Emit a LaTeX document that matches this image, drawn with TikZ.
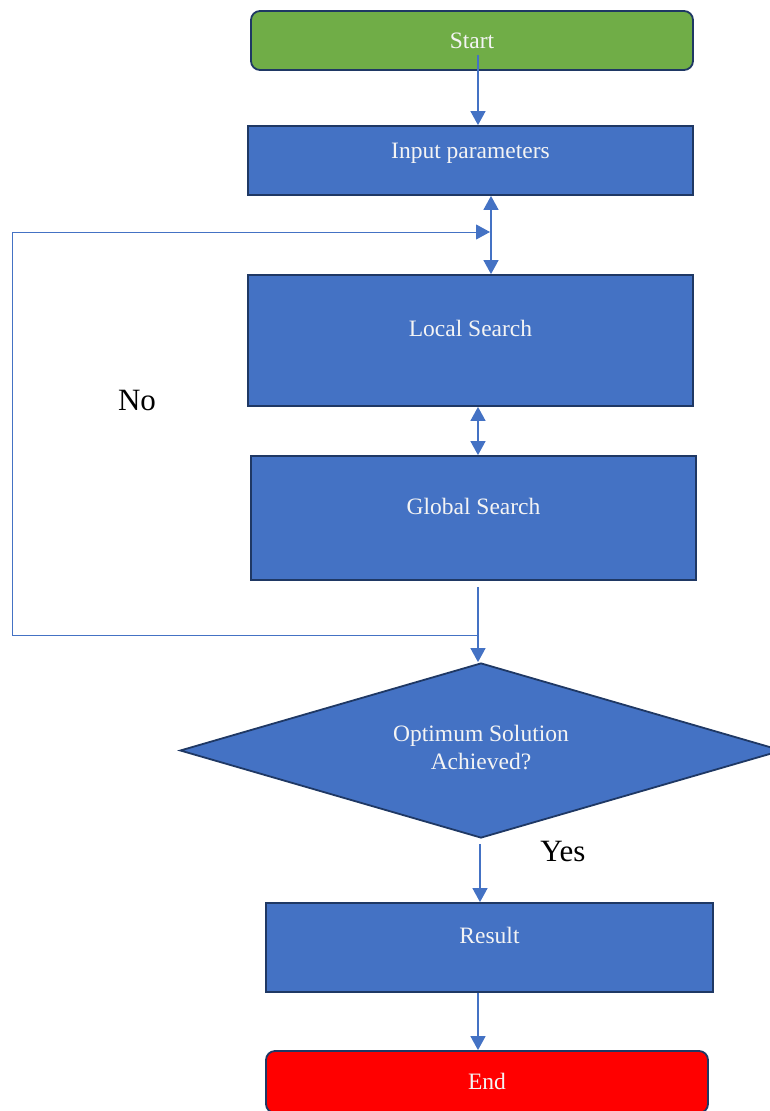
\documentclass[tikz,border=0pt]{standalone}
\usepackage{fontspec}
\setmainfont{Liberation Serif}
\usetikzlibrary{arrows.meta,shapes.geometric}
\definecolor{cgreen}{HTML}{70AD47}
\definecolor{cblue}{HTML}{4472C4}
\definecolor{cborder}{HTML}{1F3864}
\definecolor{cred}{HTML}{FF0000}
\definecolor{ctext}{HTML}{F4F4F4}
\tikzset{
  boxbase/.style={draw=cborder, line width=1.8pt, inner sep=0pt, text=ctext,
    font=\fontsize{23.5}{28}\selectfont},
  stepbox/.style={boxbase, rectangle, fill=cblue},
  termbox/.style={boxbase, rectangle, rounded corners=9pt},
  decbox/.style={boxbase, diamond, fill=cblue, align=center},
  txt/.style={text=ctext, font=\fontsize{23.5}{28}\selectfont},
  conn/.style={draw=cblue, line width=1.3pt, -{Triangle[width=15pt,length=14pt]}},
  conntwo/.style={draw=cblue, line width=1.3pt, {Triangle[width=15pt,length=14pt]}-{Triangle[width=15pt,length=14pt]}},
  loopline/.style={draw=cblue, line width=1pt},
  bigl/.style={font=\fontsize{31}{37}\selectfont, text=black},
}
\begin{document}
\begin{tikzpicture}[x=1pt,y=-1pt]
\useasboundingbox (0,0) rectangle (770,1111);
\clip (0,0) rectangle (770,1111);
% nodes
\node[termbox, fill=cgreen, minimum width=442pt, minimum height=59pt] (start) at (472,40.5) {};
\node[txt] (starttxt) at (472,40.5) {Start};
\node[stepbox, minimum width=445pt, minimum height=69pt] (inp) at (470.5,160.5) {};
\node[txt] (inptxt) at (470.5,153) {Input parameters};
\node[stepbox, minimum width=445pt, minimum height=131pt] (local) at (470.5,340.5) {};
\node[txt] (localtxt) at (470.5,328) {Local Search};
\node[stepbox, minimum width=445pt, minimum height=124pt] (global) at (473.5,518) {};
\node[txt] (globaltxt) at (473.5,506) {Global Search};
\node[decbox, minimum width=602pt, minimum height=175pt] (dia) at (481,750.5) {};
\node[txt, align=center] (diatxt) at (481,747.5) {Optimum Solution\\Achieved?};
\node[stepbox, minimum width=447pt, minimum height=89pt] (result) at (489.5,947.5) {};
\node[txt] (resulttxt) at (489.5,935) {Result};
\node[termbox, fill=cred, minimum width=442pt, minimum height=62pt] (end) at (487,1082) {};
\node[txt] (endtxt) at (487,1081) {End};
\node[bigl] (no) at (137,400) {No};
\node[bigl] (yes) at (563,851) {Yes};
% connectors
\draw[conn] ([shift={(6,14.5)}]start.center) -- ([xshift=7.5pt]inp.north);
\draw[conntwo] ([xshift=20.5pt]inp.south) -- ([xshift=20.5pt]local.north);
\draw[conntwo] ([xshift=7.5pt]local.south) -- ([xshift=4.5pt]global.north);
\draw[conn] ([shift={(4.5,6)}]global.south) -- ([xshift=-3pt]dia.north);
\coordinate (lpS) at (478,635.5);
\coordinate (lpA) at (12,635.5);
\coordinate (lpB) at (12,232);
\coordinate (lpT) at (490,232);
\draw[loopline] (lpS) -- (lpA) -- (lpB);
\draw[conn, line width=1pt] (lpB) -- (lpT);
\draw[conn] ([shift={(-1,5)}]dia.south) -- ([xshift=-9.5pt]result.north);
\draw[conn] ([xshift=-11.5pt]result.south) -- ([xshift=-9pt]end.north);
\end{tikzpicture}
\end{document}
